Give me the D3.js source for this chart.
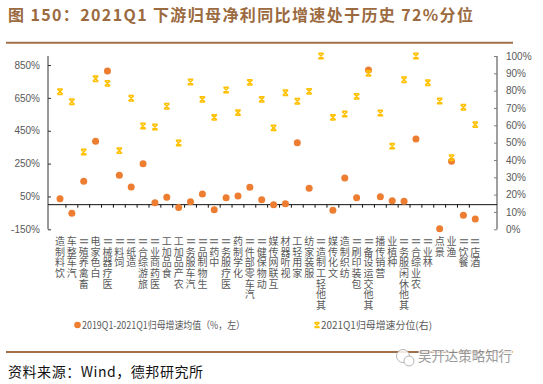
<!DOCTYPE html>
<html lang="zh">
<head>
<meta charset="UTF-8">
<title>下游归母净利同比增速分位</title>
<script src="https://d3js.org/d3.v7.min.js"></script>
<style>
    body { margin: 0; background: #fff; font-family: "Liberation Sans", "Noto Sans CJK SC", sans-serif; }
    .tick text { fill: #595959; font-size: 10px; }
</style>
</head>
<body>
<div id="chart"></div>
<script>
    // data
    const industries = ["饮料制造", "汽车整车", "畜禽养殖Ⅱ", "白色家电", "医疗器械Ⅱ", "饲料Ⅱ", "造纸Ⅱ",
        "旅游综合Ⅱ", "医药商业Ⅱ", "食品加工", "农产品加工", "汽车服务Ⅱ", "生物制品Ⅱ", "中药Ⅱ",
        "医疗服务Ⅱ", "化学制药", "汽车零部件Ⅱ", "动物保健Ⅱ", "互联网传媒", "视听器材", "家用轻工",
        "服装家纺", "其他轻工制造Ⅱ", "文化传媒", "纺织制造", "包装印刷Ⅱ", "其他交运设备Ⅱ", "营销传播",
        "种植业", "其他休闲服务Ⅱ", "农业综合Ⅱ", "林业Ⅱ", "景点", "渔业", "餐饮Ⅱ", "酒店Ⅱ"];
    // 2019Q1-2021Q1 mean growth (%), left axis; null = off the chart
    const meanGrowth = [36, -53, 142, 386, 813, 179, 107, 249, 12, 45, -18, 18, 65, -31, 42, 53, 106, 30,
        0, 6, 377, 100, null, -34, 162, 42, 820, 48, 24, 20, 400, null, -146, 264, -65, -87];
    // 2021Q1 percentile (%), right axis
    const percentile = [79.4, 73.6, 44.6, 86.9, 84.2, 45.4, 75.6, 59.6, 59, 71, 49.8, 85, 75, 64.6, 80.4,
        67.3, 84.8, 75, 58.5, 78.8, 73.9, 79.6, 100, 64.6, 66.5, 76.7, 90, 67.1, 48, 86.3, 100, 84.6, 74,
        41.3, 70.4, 60.4];
    const leftTicks = [-150, 50, 250, 450, 650, 850];
    const rightTicks = [0, 10, 20, 30, 40, 50, 60, 70, 80, 90, 100];

    const width = 543, height = 384;
    const plot = { left: 48, right: 497, top: 56, bottom: 229.3 };
    const brown = "#a0704a";

    const svg = d3.select("#chart").append("svg")
        .attr("width", width).attr("height", height);

    // title
    svg.append("text")
        .attr("x", 8).attr("y", 21)
        .attr("textLength", 465).attr("lengthAdjust", "spacing")
        .style("font-family", "'Noto Sans CJK SC', sans-serif")
        .style("font-weight", "bold").style("font-size", "16px")
        .attr("fill", "#9b6a40")
        .text("图 150：2021Q1 下游归母净利同比增速处于历史 72%分位");
    svg.append("line").attr("x1", 6).attr("x2", 513).attr("y1", 42.7).attr("y2", 42.7)
        .attr("stroke", brown).attr("stroke-width", 2);

    const x = d3.scaleBand().domain(industries).range([54.07, 481.2]).padding(0);
    const yL = d3.scaleLinear().domain([-150, 905]).range([plot.bottom, plot.top]);
    const yR = d3.scaleLinear().domain([0, 100]).range([plot.bottom, plot.top]);

    // left axis
    const gL = svg.append("g").attr("transform", `translate(${plot.left},0)`)
        .call(d3.axisLeft(yL).tickValues(leftTicks).tickSize(-3).tickPadding(8).tickFormat(d => d + "%"));
    gL.select(".domain").attr("stroke", "#333").attr("d", `M0,${plot.top}V${plot.bottom}`);
    gL.selectAll(".tick line").attr("stroke", "#333");

    // right axis
    const gR = svg.append("g").attr("transform", `translate(${plot.right},0)`)
        .call(d3.axisRight(yR).tickValues(rightTicks).tickSize(-3).tickPadding(9).tickFormat(d => d + "%"));
    gR.select(".domain").attr("stroke", "#7f7f7f").attr("stroke-width", 1.5).attr("d", `M0,${plot.top}V${plot.bottom}`);
    gR.selectAll(".tick line").attr("stroke", "#7f7f7f");

    // category axis at 0%
    const y0 = yL(0);
    svg.append("line").attr("x1", plot.left).attr("x2", plot.right).attr("y1", y0).attr("y2", y0)
        .attr("stroke", "#111").attr("stroke-width", 1);
    svg.append("g").selectAll("line")
        .data(industries.slice(1))
        .join("line")
        .attr("x1", d => x(d)).attr("x2", d => x(d))
        .attr("y1", y0).attr("y2", y0 + 3)
        .attr("stroke", "#111");

    // category labels: stacked, read bottom to top, CJK upright, Ⅱ turned
    // one text per label, each glyph placed with x/y lists and the rotate attribute
    const fs = 10, step = 10.6, labelTop = 236;
    svg.append("g").selectAll("text")
        .data(industries)
        .join("text")
        .each(function (d) {
            const cx = x(d) + x.bandwidth() / 2;
            const chars = Array.from(d).reverse();
            const xs = [], ys = [], rs = [];
            chars.forEach((c, k) => {
                const yc = labelTop + k * step + step / 2;
                if (c === "Ⅱ") {
                    xs.push((cx - 0.38 * fs).toFixed(2));
                    ys.push((yc - 0.5 * fs).toFixed(2));
                    rs.push(90);
                } else {
                    xs.push((cx - 0.5 * fs).toFixed(2));
                    ys.push((yc + 0.38 * fs).toFixed(2));
                    rs.push(0);
                }
            });
            d3.select(this)
                .attr("x", xs.join(" "))
                .attr("y", ys.join(" "))
                .attr("rotate", rs.join(" "))
                .text(chars.join(""));
        })
        .attr("fill", "#595959")
        .style("font-family", "'Noto Sans CJK SC', sans-serif")
        .style("font-size", fs + "px");

    const cx = i => x(industries[i]) + x.bandwidth() / 2;

    // orange dots
    svg.append("g").selectAll("circle")
        .data(meanGrowth.map((v, i) => ({ v, i })).filter(d => d.v !== null))
        .join("circle")
        .attr("cx", d => cx(d.i))
        .attr("cy", d => yL(d.v))
        .attr("r", 3.5)
        .attr("fill", "#ed7d31");

    // yellow star markers
    const star = s => `M${-s},${-s}L${s},${s}M${-s},${s}L${s},${-s}M${-s},${-s}H${s}M${-s},${s}H${s}`;
    svg.append("g").selectAll("path")
        .data(percentile)
        .join("path")
        .attr("transform", (d, i) => `translate(${cx(i)},${yR(d)})`)
        .attr("d", star(2.7))
        .attr("fill", "none")
        .attr("stroke", "#ffc000")
        .attr("stroke-width", 1.5);

    // legend
    const legendY = 325;
    svg.append("circle").attr("cx", 77.5).attr("cy", legendY).attr("r", 3.3).attr("fill", "#ed7d31");
    svg.append("text").attr("x", 82).attr("y", legendY).attr("dy", "0.35em")
        .attr("textLength", 163).attr("lengthAdjust", "spacingAndGlyphs")
        .attr("fill", "#595959").style("font-size", "10px")
        .style("font-family", "'Noto Sans CJK SC', sans-serif")
        .text("2019Q1-2021Q1归母增速均值（%，左）");
    svg.append("path").attr("transform", `translate(317,${legendY})`).attr("d", star(2.5))
        .attr("fill", "none").attr("stroke", "#ffc000").attr("stroke-width", 1.5);
    svg.append("text").attr("x", 321).attr("y", legendY).attr("dy", "0.35em")
        .attr("textLength", 111).attr("lengthAdjust", "spacingAndGlyphs")
        .attr("fill", "#595959").style("font-size", "10px")
        .style("font-family", "'Noto Sans CJK SC', sans-serif")
        .text("2021Q1归母增速分位(右)");

    // footer
    svg.append("line").attr("x1", 6).attr("x2", 513).attr("y1", 352).attr("y2", 352)
        .attr("stroke", brown).attr("stroke-width", 2);
    svg.append("text").attr("x", 8).attr("y", 377)
        .attr("textLength", 195).attr("lengthAdjust", "spacing")
        .attr("fill", "#111").style("font-size", "14px")
        .style("font-family", "'Noto Sans CJK SC', sans-serif")
        .text("资料来源：Wind，德邦研究所");

    // watermark
    const wm = svg.append("g").attr("opacity", 0.85);
    wm.append("circle").attr("cx", 403).attr("cy", 356).attr("r", 6.5)
        .attr("fill", "#fff").attr("stroke", "#aaa").attr("stroke-width", 1);
    wm.append("circle").attr("cx", 409).attr("cy", 361).attr("r", 5)
        .attr("fill", "#fff").attr("stroke", "#aaa").attr("stroke-width", 1);
    wm.append("text").attr("x", 418).attr("y", 361)
        .attr("textLength", 94).attr("lengthAdjust", "spacingAndGlyphs")
        .attr("fill", "#fff").attr("stroke", "#fff").attr("stroke-width", 3)
        .style("font-size", "13.5px").style("font-family", "'Noto Sans CJK SC', sans-serif")
        .text("吴开达策略知行");
    wm.append("text").attr("x", 418).attr("y", 361)
        .attr("textLength", 94).attr("lengthAdjust", "spacingAndGlyphs")
        .attr("fill", "#8a8a8a")
        .style("font-size", "13.5px").style("font-family", "'Noto Sans CJK SC', sans-serif")
        .text("吴开达策略知行");
</script>
</body>
</html>
